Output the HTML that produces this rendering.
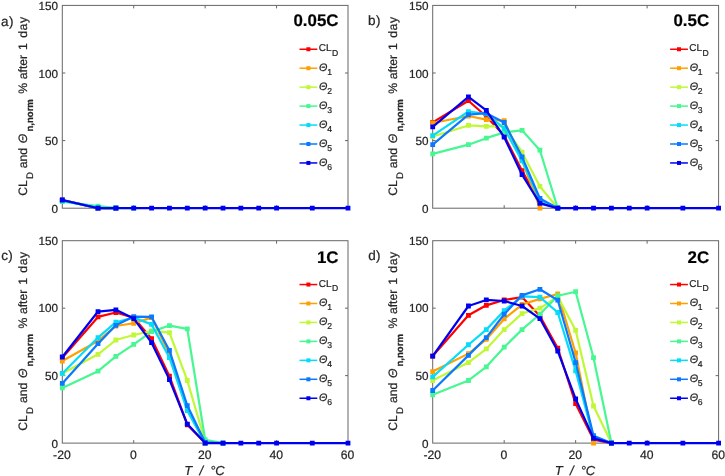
<!DOCTYPE html>
<html><head><meta charset="utf-8"><title>Chart</title>
<style>
html,body{margin:0;padding:0;background:#fff;}
body{width:725px;height:476px;overflow:hidden;font-family:"Liberation Sans",sans-serif;}
svg{display:block;will-change:transform;}
svg text{stroke:#262626;stroke-width:0.22px;}
</style></head><body>
<svg width="725" height="476" viewBox="0 0 725 476" font-family="'Liberation Sans', sans-serif" fill="#262626" text-rendering="geometricPrecision">
<rect width="725" height="476" fill="#ffffff"/>
<g>
<rect x="62.30" y="5.40" width="285.70" height="202.80" fill="none" stroke="#666666" stroke-width="1"/>
<path d="M133.72 208.20v-3.00M133.72 5.40v3.00M205.15 208.20v-3.00M205.15 5.40v3.00M276.57 208.20v-3.00M276.57 5.40v3.00M62.30 140.60h3.00M348.00 140.60h-3.00M62.30 73.00h3.00M348.00 73.00h-3.00" stroke="#666666" stroke-width="1" fill="none"/>
<text x="58.00" y="213.40" font-size="11.7" text-anchor="end">0</text>
<text x="58.00" y="145.00" font-size="11.7" text-anchor="end">50</text>
<text x="58.00" y="77.60" font-size="11.7" text-anchor="end">100</text>
<text x="58.00" y="10.00" font-size="11.7" text-anchor="end">150</text>
<g transform="translate(27.10 194.80) rotate(-90)">
<text x="-1.00" y="0.00" font-size="12.20" >CL</text>
<text x="15.70" y="5.80" font-size="9.60" >D</text>
<text x="26.60" y="0.00" font-size="12.20" >and</text>
<text x="51.60" y="0.00" font-size="12.20" font-style="italic">Θ</text>
<text x="63.20" y="5.80" font-size="9.60" font-weight="bold">n,norm</text>
<text x="101.10" y="0.00" font-size="12.20" >%</text>
<text x="115.60" y="0.00" font-size="12.20" >after</text>
<text x="144.90" y="0.00" font-size="12.20" >1</text>
<text x="157.00" y="0.00" font-size="12.20" letter-spacing="0.6">day</text>
</g>
<text x="1.10" y="25.60" font-size="13.5" letter-spacing="0.4">a)</text>
<polyline points="62.30,200.09 98.01,208.06 115.87,208.20" fill="none" stroke="#ff0000" stroke-width="2.20" stroke-linejoin="round"/>
<path d="M59.90 197.69h4.80v4.80h-4.80zM95.61 205.66h4.80v4.80h-4.80zM113.47 205.80h4.80v4.80h-4.80z" fill="#ff0000"/>
<polyline points="62.30,200.09 98.01,208.06 115.87,208.20" fill="none" stroke="#ffa000" stroke-width="2.20" stroke-linejoin="round"/>
<path d="M59.90 197.69h4.80v4.80h-4.80zM95.61 205.66h4.80v4.80h-4.80zM113.47 205.80h4.80v4.80h-4.80z" fill="#ffa000"/>
<polyline points="62.30,200.76 98.01,207.52 115.87,208.20" fill="none" stroke="#c0f836" stroke-width="2.20" stroke-linejoin="round"/>
<path d="M59.90 198.36h4.80v4.80h-4.80zM95.61 205.12h4.80v4.80h-4.80zM113.47 205.80h4.80v4.80h-4.80z" fill="#c0f836"/>
<polyline points="62.30,201.58 98.01,206.04 115.87,207.79 133.72,208.20" fill="none" stroke="#46f792" stroke-width="2.20" stroke-linejoin="round"/>
<path d="M59.90 199.18h4.80v4.80h-4.80zM95.61 203.64h4.80v4.80h-4.80zM113.47 205.39h4.80v4.80h-4.80zM131.32 205.80h4.80v4.80h-4.80z" fill="#46f792"/>
<polyline points="62.30,200.76 98.01,207.79 115.87,208.20" fill="none" stroke="#06dcf8" stroke-width="2.20" stroke-linejoin="round"/>
<path d="M59.90 198.36h4.80v4.80h-4.80zM95.61 205.39h4.80v4.80h-4.80zM113.47 205.80h4.80v4.80h-4.80z" fill="#06dcf8"/>
<polyline points="62.30,200.09 98.01,208.06 115.87,208.20" fill="none" stroke="#0a78ff" stroke-width="2.20" stroke-linejoin="round"/>
<path d="M59.90 197.69h4.80v4.80h-4.80zM95.61 205.66h4.80v4.80h-4.80zM113.47 205.80h4.80v4.80h-4.80z" fill="#0a78ff"/>
<polyline points="62.30,199.95 98.01,208.20 115.87,208.20 133.72,208.20 151.58,208.20 169.44,208.20 187.29,208.20 205.15,208.20 223.01,208.20 240.86,208.20 258.72,208.20 276.57,208.20 312.29,208.20 348.00,208.20" fill="none" stroke="#0000f0" stroke-width="2.20" stroke-linejoin="round"/>
<path d="M59.90 197.55h4.80v4.80h-4.80zM95.61 205.80h4.80v4.80h-4.80zM113.47 205.80h4.80v4.80h-4.80zM131.32 205.80h4.80v4.80h-4.80zM149.18 205.80h4.80v4.80h-4.80zM167.04 205.80h4.80v4.80h-4.80zM184.89 205.80h4.80v4.80h-4.80zM202.75 205.80h4.80v4.80h-4.80zM220.61 205.80h4.80v4.80h-4.80zM238.46 205.80h4.80v4.80h-4.80zM256.32 205.80h4.80v4.80h-4.80zM274.18 205.80h4.80v4.80h-4.80zM309.89 205.80h4.80v4.80h-4.80zM345.60 205.80h4.80v4.80h-4.80z" fill="#0000f0"/>
<text x="338.50" y="26.40" font-size="16.9" font-weight="bold" text-anchor="end" fill="#000">0.05C</text>
<path d="M299.50 49.25h17.8" stroke="#ff0000" stroke-width="1.5" fill="none"/>
<rect x="306.40" y="47.25" width="4" height="4" fill="#ff0000"/>
<text x="318.70" y="51.45" font-size="10">CL<tspan font-size="8.6" dx="0.5" dy="4.7">D</tspan></text>
<path d="M299.50 68.20h17.8" stroke="#ffa000" stroke-width="1.5" fill="none"/>
<rect x="306.40" y="66.20" width="4" height="4" fill="#ffa000"/>
<text x="319.10" y="71.10" font-size="10.8"><tspan font-style="italic">Θ</tspan><tspan font-size="8.6" dx="-0.3" dy="4.0">1</tspan></text>
<path d="M299.50 87.15h17.8" stroke="#c0f836" stroke-width="1.5" fill="none"/>
<rect x="306.40" y="85.15" width="4" height="4" fill="#c0f836"/>
<text x="319.10" y="90.05" font-size="10.8"><tspan font-style="italic">Θ</tspan><tspan font-size="8.6" dx="-0.3" dy="4.0">2</tspan></text>
<path d="M299.50 106.10h17.8" stroke="#46f792" stroke-width="1.5" fill="none"/>
<rect x="306.40" y="104.10" width="4" height="4" fill="#46f792"/>
<text x="319.10" y="109.00" font-size="10.8"><tspan font-style="italic">Θ</tspan><tspan font-size="8.6" dx="-0.3" dy="4.0">3</tspan></text>
<path d="M299.50 125.05h17.8" stroke="#06dcf8" stroke-width="1.5" fill="none"/>
<rect x="306.40" y="123.05" width="4" height="4" fill="#06dcf8"/>
<text x="319.10" y="127.95" font-size="10.8"><tspan font-style="italic">Θ</tspan><tspan font-size="8.6" dx="-0.3" dy="4.0">4</tspan></text>
<path d="M299.50 144.00h17.8" stroke="#0a78ff" stroke-width="1.5" fill="none"/>
<rect x="306.40" y="142.00" width="4" height="4" fill="#0a78ff"/>
<text x="319.10" y="146.90" font-size="10.8"><tspan font-style="italic">Θ</tspan><tspan font-size="8.6" dx="-0.3" dy="4.0">5</tspan></text>
<path d="M299.50 162.95h17.8" stroke="#0000f0" stroke-width="1.5" fill="none"/>
<rect x="306.40" y="160.95" width="4" height="4" fill="#0000f0"/>
<text x="319.10" y="165.85" font-size="10.8"><tspan font-style="italic">Θ</tspan><tspan font-size="8.6" dx="-0.3" dy="4.0">6</tspan></text>
</g>
<g>
<rect x="432.70" y="5.40" width="285.90" height="202.80" fill="none" stroke="#666666" stroke-width="1"/>
<path d="M504.18 208.20v-3.00M504.18 5.40v3.00M575.65 208.20v-3.00M575.65 5.40v3.00M647.12 208.20v-3.00M647.12 5.40v3.00M432.70 140.60h3.00M718.60 140.60h-3.00M432.70 73.00h3.00M718.60 73.00h-3.00" stroke="#666666" stroke-width="1" fill="none"/>
<text x="428.40" y="213.40" font-size="11.7" text-anchor="end">0</text>
<text x="428.40" y="145.00" font-size="11.7" text-anchor="end">50</text>
<text x="428.40" y="77.60" font-size="11.7" text-anchor="end">100</text>
<text x="428.40" y="10.00" font-size="11.7" text-anchor="end">150</text>
<g transform="translate(397.25 194.80) rotate(-90)">
<text x="-1.00" y="0.00" font-size="12.20" >CL</text>
<text x="15.70" y="5.80" font-size="9.60" >D</text>
<text x="26.60" y="0.00" font-size="12.20" >and</text>
<text x="51.60" y="0.00" font-size="12.20" font-style="italic">Θ</text>
<text x="63.20" y="5.80" font-size="9.60" font-weight="bold">n,norm</text>
<text x="101.10" y="0.00" font-size="12.20" >%</text>
<text x="115.60" y="0.00" font-size="12.20" >after</text>
<text x="144.90" y="0.00" font-size="12.20" >1</text>
<text x="157.00" y="0.00" font-size="12.20" letter-spacing="0.6">day</text>
</g>
<text x="368.00" y="25.30" font-size="13.5" letter-spacing="0.4">b)</text>
<polyline points="432.70,122.35 468.44,100.72 486.31,116.53 504.18,135.60 522.04,170.75 539.91,202.39 557.78,208.20" fill="none" stroke="#ff0000" stroke-width="2.20" stroke-linejoin="round"/>
<path d="M430.30 119.95h4.80v4.80h-4.80zM466.04 98.32h4.80v4.80h-4.80zM483.91 114.13h4.80v4.80h-4.80zM501.78 133.20h4.80v4.80h-4.80zM519.64 168.35h4.80v4.80h-4.80zM537.51 199.99h4.80v4.80h-4.80zM555.38 205.80h4.80v4.80h-4.80z" fill="#ff0000"/>
<polyline points="432.70,123.02 468.44,115.99 486.31,119.64 504.18,120.59 522.04,160.20 539.91,208.20" fill="none" stroke="#ffa000" stroke-width="2.20" stroke-linejoin="round"/>
<path d="M430.30 120.62h4.80v4.80h-4.80zM466.04 113.59h4.80v4.80h-4.80zM483.91 117.24h4.80v4.80h-4.80zM501.78 118.19h4.80v4.80h-4.80zM519.64 157.80h4.80v4.80h-4.80zM537.51 205.80h4.80v4.80h-4.80z" fill="#ffa000"/>
<polyline points="432.70,136.54 468.44,125.46 486.31,126.40 504.18,126.13 522.04,152.23 539.91,186.43 557.78,208.20" fill="none" stroke="#c0f836" stroke-width="2.20" stroke-linejoin="round"/>
<path d="M430.30 134.14h4.80v4.80h-4.80zM466.04 123.06h4.80v4.80h-4.80zM483.91 124.00h4.80v4.80h-4.80zM501.78 123.73h4.80v4.80h-4.80zM519.64 149.83h4.80v4.80h-4.80zM537.51 184.03h4.80v4.80h-4.80zM555.38 205.80h4.80v4.80h-4.80z" fill="#c0f836"/>
<polyline points="432.70,153.85 468.44,144.66 486.31,138.17 504.18,132.35 522.04,130.32 539.91,150.20 557.78,208.20" fill="none" stroke="#46f792" stroke-width="2.20" stroke-linejoin="round"/>
<path d="M430.30 151.45h4.80v4.80h-4.80zM466.04 142.26h4.80v4.80h-4.80zM483.91 135.77h4.80v4.80h-4.80zM501.78 129.95h4.80v4.80h-4.80zM519.64 127.92h4.80v4.80h-4.80zM537.51 147.80h4.80v4.80h-4.80zM555.38 205.80h4.80v4.80h-4.80z" fill="#46f792"/>
<polyline points="432.70,135.60 468.44,111.53 486.31,113.83 504.18,128.43 522.04,160.88 539.91,200.09 557.78,208.20" fill="none" stroke="#06dcf8" stroke-width="2.20" stroke-linejoin="round"/>
<path d="M430.30 133.20h4.80v4.80h-4.80zM466.04 109.13h4.80v4.80h-4.80zM483.91 111.43h4.80v4.80h-4.80zM501.78 126.03h4.80v4.80h-4.80zM519.64 158.48h4.80v4.80h-4.80zM537.51 197.69h4.80v4.80h-4.80zM555.38 205.80h4.80v4.80h-4.80z" fill="#06dcf8"/>
<polyline points="432.70,144.66 468.44,114.64 486.31,113.15 504.18,122.48 522.04,156.82 539.91,198.47 557.78,208.20" fill="none" stroke="#0a78ff" stroke-width="2.20" stroke-linejoin="round"/>
<path d="M430.30 142.26h4.80v4.80h-4.80zM466.04 112.24h4.80v4.80h-4.80zM483.91 110.75h4.80v4.80h-4.80zM501.78 120.08h4.80v4.80h-4.80zM519.64 154.42h4.80v4.80h-4.80zM537.51 196.07h4.80v4.80h-4.80zM555.38 205.80h4.80v4.80h-4.80z" fill="#0a78ff"/>
<polyline points="432.70,126.81 468.44,96.80 486.31,110.32 504.18,137.22 522.04,174.67 539.91,203.33 557.78,208.20 575.65,208.20 593.52,208.20 611.39,208.20 629.26,208.20 647.12,208.20 682.86,208.20 718.60,208.20" fill="none" stroke="#0000f0" stroke-width="2.20" stroke-linejoin="round"/>
<path d="M430.30 124.41h4.80v4.80h-4.80zM466.04 94.40h4.80v4.80h-4.80zM483.91 107.92h4.80v4.80h-4.80zM501.78 134.82h4.80v4.80h-4.80zM519.64 172.27h4.80v4.80h-4.80zM537.51 200.93h4.80v4.80h-4.80zM555.38 205.80h4.80v4.80h-4.80zM573.25 205.80h4.80v4.80h-4.80zM591.12 205.80h4.80v4.80h-4.80zM608.99 205.80h4.80v4.80h-4.80zM626.86 205.80h4.80v4.80h-4.80zM644.73 205.80h4.80v4.80h-4.80zM680.46 205.80h4.80v4.80h-4.80zM716.20 205.80h4.80v4.80h-4.80z" fill="#0000f0"/>
<text x="709.10" y="26.40" font-size="16.9" font-weight="bold" text-anchor="end" fill="#000">0.5C</text>
<path d="M670.10 49.25h17.8" stroke="#ff0000" stroke-width="1.5" fill="none"/>
<rect x="677.00" y="47.25" width="4" height="4" fill="#ff0000"/>
<text x="689.30" y="51.45" font-size="10">CL<tspan font-size="8.6" dx="0.5" dy="4.7">D</tspan></text>
<path d="M670.10 68.20h17.8" stroke="#ffa000" stroke-width="1.5" fill="none"/>
<rect x="677.00" y="66.20" width="4" height="4" fill="#ffa000"/>
<text x="689.70" y="71.10" font-size="10.8"><tspan font-style="italic">Θ</tspan><tspan font-size="8.6" dx="-0.3" dy="4.0">1</tspan></text>
<path d="M670.10 87.15h17.8" stroke="#c0f836" stroke-width="1.5" fill="none"/>
<rect x="677.00" y="85.15" width="4" height="4" fill="#c0f836"/>
<text x="689.70" y="90.05" font-size="10.8"><tspan font-style="italic">Θ</tspan><tspan font-size="8.6" dx="-0.3" dy="4.0">2</tspan></text>
<path d="M670.10 106.10h17.8" stroke="#46f792" stroke-width="1.5" fill="none"/>
<rect x="677.00" y="104.10" width="4" height="4" fill="#46f792"/>
<text x="689.70" y="109.00" font-size="10.8"><tspan font-style="italic">Θ</tspan><tspan font-size="8.6" dx="-0.3" dy="4.0">3</tspan></text>
<path d="M670.10 125.05h17.8" stroke="#06dcf8" stroke-width="1.5" fill="none"/>
<rect x="677.00" y="123.05" width="4" height="4" fill="#06dcf8"/>
<text x="689.70" y="127.95" font-size="10.8"><tspan font-style="italic">Θ</tspan><tspan font-size="8.6" dx="-0.3" dy="4.0">4</tspan></text>
<path d="M670.10 144.00h17.8" stroke="#0a78ff" stroke-width="1.5" fill="none"/>
<rect x="677.00" y="142.00" width="4" height="4" fill="#0a78ff"/>
<text x="689.70" y="146.90" font-size="10.8"><tspan font-style="italic">Θ</tspan><tspan font-size="8.6" dx="-0.3" dy="4.0">5</tspan></text>
<path d="M670.10 162.95h17.8" stroke="#0000f0" stroke-width="1.5" fill="none"/>
<rect x="677.00" y="160.95" width="4" height="4" fill="#0000f0"/>
<text x="689.70" y="165.85" font-size="10.8"><tspan font-style="italic">Θ</tspan><tspan font-size="8.6" dx="-0.3" dy="4.0">6</tspan></text>
</g>
<g>
<rect x="62.30" y="240.70" width="285.70" height="202.40" fill="none" stroke="#666666" stroke-width="1"/>
<path d="M133.72 443.10v-3.00M133.72 240.70v3.00M205.15 443.10v-3.00M205.15 240.70v3.00M276.57 443.10v-3.00M276.57 240.70v3.00M62.30 375.63h3.00M348.00 375.63h-3.00M62.30 308.17h3.00M348.00 308.17h-3.00" stroke="#666666" stroke-width="1" fill="none"/>
<text x="58.00" y="447.90" font-size="11.7" text-anchor="end">0</text>
<text x="58.00" y="380.03" font-size="11.7" text-anchor="end">50</text>
<text x="58.00" y="312.47" font-size="11.7" text-anchor="end">100</text>
<text x="58.00" y="245.00" font-size="11.7" text-anchor="end">150</text>
<text x="61.90" y="458.70" font-size="12.2" text-anchor="middle">-20</text>
<text x="133.32" y="458.70" font-size="12.2" text-anchor="middle">0</text>
<text x="204.75" y="458.70" font-size="12.2" text-anchor="middle">20</text>
<text x="276.18" y="458.70" font-size="12.2" text-anchor="middle">40</text>
<text x="347.60" y="458.70" font-size="12.2" text-anchor="middle">60</text>
<g font-size="13" font-style="italic"><text x="184.35" y="474.8">T</text><text x="199.55" y="474.8">/</text><text x="210.15" y="474.8">°C</text></g>
<g transform="translate(27.10 429.70) rotate(-90)">
<text x="-1.00" y="0.00" font-size="12.20" >CL</text>
<text x="15.70" y="5.80" font-size="9.60" >D</text>
<text x="26.60" y="0.00" font-size="12.20" >and</text>
<text x="51.60" y="0.00" font-size="12.20" font-style="italic">Θ</text>
<text x="63.20" y="5.80" font-size="9.60" font-weight="bold">n,norm</text>
<text x="101.10" y="0.00" font-size="12.20" >%</text>
<text x="115.60" y="0.00" font-size="12.20" >after</text>
<text x="144.90" y="0.00" font-size="12.20" >1</text>
<text x="157.00" y="0.00" font-size="12.20" letter-spacing="0.6">day</text>
</g>
<text x="1.20" y="259.80" font-size="13.5" letter-spacing="0.4">c)</text>
<polyline points="62.30,357.69 98.01,316.94 115.87,312.48 133.72,317.61 151.58,338.66 169.44,376.17 187.29,424.75 205.15,443.10" fill="none" stroke="#ff0000" stroke-width="2.20" stroke-linejoin="round"/>
<path d="M59.90 355.29h4.80v4.80h-4.80zM95.61 314.54h4.80v4.80h-4.80zM113.47 310.08h4.80v4.80h-4.80zM131.32 315.21h4.80v4.80h-4.80zM149.18 336.26h4.80v4.80h-4.80zM167.04 373.77h4.80v4.80h-4.80zM184.89 422.35h4.80v4.80h-4.80zM202.75 440.70h4.80v4.80h-4.80z" fill="#ff0000"/>
<polyline points="62.30,361.06 98.01,340.96 115.87,325.98 133.72,323.28 151.58,317.61 169.44,354.04 187.29,409.37 205.15,443.10" fill="none" stroke="#ffa000" stroke-width="2.20" stroke-linejoin="round"/>
<path d="M59.90 358.66h4.80v4.80h-4.80zM95.61 338.56h4.80v4.80h-4.80zM113.47 323.58h4.80v4.80h-4.80zM131.32 320.88h4.80v4.80h-4.80zM149.18 315.21h4.80v4.80h-4.80zM167.04 351.64h4.80v4.80h-4.80zM184.89 406.97h4.80v4.80h-4.80zM202.75 440.70h4.80v4.80h-4.80z" fill="#ffa000"/>
<polyline points="62.30,373.47 98.01,354.31 115.87,340.01 133.72,335.02 151.58,330.97 169.44,332.59 187.29,380.49 205.15,441.75 223.01,443.10" fill="none" stroke="#c0f836" stroke-width="2.20" stroke-linejoin="round"/>
<path d="M59.90 371.07h4.80v4.80h-4.80zM95.61 351.91h4.80v4.80h-4.80zM113.47 337.61h4.80v4.80h-4.80zM131.32 332.62h4.80v4.80h-4.80zM149.18 328.57h4.80v4.80h-4.80zM167.04 330.19h4.80v4.80h-4.80zM184.89 378.09h4.80v4.80h-4.80zM202.75 439.35h4.80v4.80h-4.80zM220.61 440.70h4.80v4.80h-4.80z" fill="#c0f836"/>
<polyline points="62.30,387.91 98.01,371.18 115.87,356.34 133.72,344.33 151.58,331.65 169.44,325.57 187.29,328.95 205.15,439.73 223.01,443.10" fill="none" stroke="#46f792" stroke-width="2.20" stroke-linejoin="round"/>
<path d="M59.90 385.51h4.80v4.80h-4.80zM95.61 368.78h4.80v4.80h-4.80zM113.47 353.94h4.80v4.80h-4.80zM131.32 341.93h4.80v4.80h-4.80zM149.18 329.25h4.80v4.80h-4.80zM167.04 323.17h4.80v4.80h-4.80zM184.89 326.55h4.80v4.80h-4.80zM202.75 437.33h4.80v4.80h-4.80zM220.61 440.70h4.80v4.80h-4.80z" fill="#46f792"/>
<polyline points="62.30,373.47 98.01,337.58 115.87,322.20 133.72,317.61 151.58,324.36 169.44,357.69 187.29,410.72 205.15,443.10" fill="none" stroke="#06dcf8" stroke-width="2.20" stroke-linejoin="round"/>
<path d="M59.90 371.07h4.80v4.80h-4.80zM95.61 335.18h4.80v4.80h-4.80zM113.47 319.80h4.80v4.80h-4.80zM131.32 315.21h4.80v4.80h-4.80zM149.18 321.96h4.80v4.80h-4.80zM167.04 355.29h4.80v4.80h-4.80zM184.89 408.32h4.80v4.80h-4.80zM202.75 440.70h4.80v4.80h-4.80z" fill="#06dcf8"/>
<polyline points="62.30,383.46 98.01,343.65 115.87,325.30 133.72,316.53 151.58,316.94 169.44,350.40 187.29,405.59 205.15,442.43 223.01,443.10" fill="none" stroke="#0a78ff" stroke-width="2.20" stroke-linejoin="round"/>
<path d="M59.90 381.06h4.80v4.80h-4.80zM95.61 341.25h4.80v4.80h-4.80zM113.47 322.90h4.80v4.80h-4.80zM131.32 314.13h4.80v4.80h-4.80zM149.18 314.54h4.80v4.80h-4.80zM167.04 348.00h4.80v4.80h-4.80zM184.89 403.19h4.80v4.80h-4.80zM202.75 440.03h4.80v4.80h-4.80zM220.61 440.70h4.80v4.80h-4.80z" fill="#0a78ff"/>
<polyline points="62.30,357.01 98.01,311.54 115.87,309.79 133.72,318.56 151.58,342.71 169.44,379.55 187.29,424.07 205.15,443.10 223.01,443.10 240.86,443.10 258.72,443.10 276.57,443.10 312.29,443.10 348.00,443.10" fill="none" stroke="#0000f0" stroke-width="2.20" stroke-linejoin="round"/>
<path d="M59.90 354.61h4.80v4.80h-4.80zM95.61 309.14h4.80v4.80h-4.80zM113.47 307.39h4.80v4.80h-4.80zM131.32 316.16h4.80v4.80h-4.80zM149.18 340.31h4.80v4.80h-4.80zM167.04 377.15h4.80v4.80h-4.80zM184.89 421.67h4.80v4.80h-4.80zM202.75 440.70h4.80v4.80h-4.80zM220.61 440.70h4.80v4.80h-4.80zM238.46 440.70h4.80v4.80h-4.80zM256.32 440.70h4.80v4.80h-4.80zM274.18 440.70h4.80v4.80h-4.80zM309.89 440.70h4.80v4.80h-4.80zM345.60 440.70h4.80v4.80h-4.80z" fill="#0000f0"/>
<text x="338.50" y="262.90" font-size="16.9" font-weight="bold" text-anchor="end" fill="#000">1C</text>
<path d="M299.50 284.55h17.8" stroke="#ff0000" stroke-width="1.5" fill="none"/>
<rect x="306.40" y="282.55" width="4" height="4" fill="#ff0000"/>
<text x="318.70" y="286.75" font-size="10">CL<tspan font-size="8.6" dx="0.5" dy="4.7">D</tspan></text>
<path d="M299.50 303.50h17.8" stroke="#ffa000" stroke-width="1.5" fill="none"/>
<rect x="306.40" y="301.50" width="4" height="4" fill="#ffa000"/>
<text x="319.10" y="306.40" font-size="10.8"><tspan font-style="italic">Θ</tspan><tspan font-size="8.6" dx="-0.3" dy="4.0">1</tspan></text>
<path d="M299.50 322.45h17.8" stroke="#c0f836" stroke-width="1.5" fill="none"/>
<rect x="306.40" y="320.45" width="4" height="4" fill="#c0f836"/>
<text x="319.10" y="325.35" font-size="10.8"><tspan font-style="italic">Θ</tspan><tspan font-size="8.6" dx="-0.3" dy="4.0">2</tspan></text>
<path d="M299.50 341.40h17.8" stroke="#46f792" stroke-width="1.5" fill="none"/>
<rect x="306.40" y="339.40" width="4" height="4" fill="#46f792"/>
<text x="319.10" y="344.30" font-size="10.8"><tspan font-style="italic">Θ</tspan><tspan font-size="8.6" dx="-0.3" dy="4.0">3</tspan></text>
<path d="M299.50 360.35h17.8" stroke="#06dcf8" stroke-width="1.5" fill="none"/>
<rect x="306.40" y="358.35" width="4" height="4" fill="#06dcf8"/>
<text x="319.10" y="363.25" font-size="10.8"><tspan font-style="italic">Θ</tspan><tspan font-size="8.6" dx="-0.3" dy="4.0">4</tspan></text>
<path d="M299.50 379.30h17.8" stroke="#0a78ff" stroke-width="1.5" fill="none"/>
<rect x="306.40" y="377.30" width="4" height="4" fill="#0a78ff"/>
<text x="319.10" y="382.20" font-size="10.8"><tspan font-style="italic">Θ</tspan><tspan font-size="8.6" dx="-0.3" dy="4.0">5</tspan></text>
<path d="M299.50 398.25h17.8" stroke="#0000f0" stroke-width="1.5" fill="none"/>
<rect x="306.40" y="396.25" width="4" height="4" fill="#0000f0"/>
<text x="319.10" y="401.15" font-size="10.8"><tspan font-style="italic">Θ</tspan><tspan font-size="8.6" dx="-0.3" dy="4.0">6</tspan></text>
</g>
<g>
<rect x="432.70" y="240.70" width="285.90" height="202.40" fill="none" stroke="#666666" stroke-width="1"/>
<path d="M504.18 443.10v-3.00M504.18 240.70v3.00M575.65 443.10v-3.00M575.65 240.70v3.00M647.12 443.10v-3.00M647.12 240.70v3.00M432.70 375.63h3.00M718.60 375.63h-3.00M432.70 308.17h3.00M718.60 308.17h-3.00" stroke="#666666" stroke-width="1" fill="none"/>
<text x="428.40" y="447.90" font-size="11.7" text-anchor="end">0</text>
<text x="428.40" y="380.03" font-size="11.7" text-anchor="end">50</text>
<text x="428.40" y="312.47" font-size="11.7" text-anchor="end">100</text>
<text x="428.40" y="245.00" font-size="11.7" text-anchor="end">150</text>
<text x="432.30" y="458.70" font-size="12.2" text-anchor="middle">-20</text>
<text x="503.78" y="458.70" font-size="12.2" text-anchor="middle">0</text>
<text x="575.25" y="458.70" font-size="12.2" text-anchor="middle">20</text>
<text x="646.73" y="458.70" font-size="12.2" text-anchor="middle">40</text>
<text x="718.20" y="458.70" font-size="12.2" text-anchor="middle">60</text>
<g font-size="13" font-style="italic"><text x="554.85" y="474.8">T</text><text x="570.05" y="474.8">/</text><text x="580.65" y="474.8">°C</text></g>
<g transform="translate(397.25 429.70) rotate(-90)">
<text x="-1.00" y="0.00" font-size="12.20" >CL</text>
<text x="15.70" y="5.80" font-size="9.60" >D</text>
<text x="26.60" y="0.00" font-size="12.20" >and</text>
<text x="51.60" y="0.00" font-size="12.20" font-style="italic">Θ</text>
<text x="63.20" y="5.80" font-size="9.60" font-weight="bold">n,norm</text>
<text x="101.10" y="0.00" font-size="12.20" >%</text>
<text x="115.60" y="0.00" font-size="12.20" >after</text>
<text x="144.90" y="0.00" font-size="12.20" >1</text>
<text x="157.00" y="0.00" font-size="12.20" letter-spacing="0.6">day</text>
</g>
<text x="368.20" y="259.70" font-size="13.5" letter-spacing="0.4">d)</text>
<polyline points="432.70,356.07 468.44,315.32 486.31,305.33 504.18,299.94 522.04,297.10 539.91,315.99 557.78,348.24 575.65,403.70 593.52,439.59 611.39,443.10" fill="none" stroke="#ff0000" stroke-width="2.20" stroke-linejoin="round"/>
<path d="M430.30 353.67h4.80v4.80h-4.80zM466.04 312.92h4.80v4.80h-4.80zM483.91 302.93h4.80v4.80h-4.80zM501.78 297.54h4.80v4.80h-4.80zM519.64 294.70h4.80v4.80h-4.80zM537.51 313.59h4.80v4.80h-4.80zM555.38 345.84h4.80v4.80h-4.80zM573.25 401.30h4.80v4.80h-4.80zM591.12 437.19h4.80v4.80h-4.80zM608.99 440.70h4.80v4.80h-4.80z" fill="#ff0000"/>
<polyline points="432.70,371.59 468.44,353.64 486.31,339.34 504.18,318.96 522.04,304.52 539.91,298.86 557.78,294.00 575.65,352.96 593.52,443.10" fill="none" stroke="#ffa000" stroke-width="2.20" stroke-linejoin="round"/>
<path d="M430.30 369.19h4.80v4.80h-4.80zM466.04 351.24h4.80v4.80h-4.80zM483.91 336.94h4.80v4.80h-4.80zM501.78 316.56h4.80v4.80h-4.80zM519.64 302.12h4.80v4.80h-4.80zM537.51 296.46h4.80v4.80h-4.80zM555.38 291.60h4.80v4.80h-4.80zM573.25 350.56h4.80v4.80h-4.80zM591.12 440.70h4.80v4.80h-4.80z" fill="#ffa000"/>
<polyline points="432.70,380.49 468.44,362.54 486.31,348.92 504.18,329.62 522.04,313.56 539.91,308.17 557.78,296.83 575.65,330.30 593.52,405.99 611.39,443.10" fill="none" stroke="#c0f836" stroke-width="2.20" stroke-linejoin="round"/>
<path d="M430.30 378.09h4.80v4.80h-4.80zM466.04 360.14h4.80v4.80h-4.80zM483.91 346.52h4.80v4.80h-4.80zM501.78 327.22h4.80v4.80h-4.80zM519.64 311.16h4.80v4.80h-4.80zM537.51 305.77h4.80v4.80h-4.80zM555.38 294.43h4.80v4.80h-4.80zM573.25 327.90h4.80v4.80h-4.80zM591.12 403.59h4.80v4.80h-4.80zM608.99 440.70h4.80v4.80h-4.80z" fill="#c0f836"/>
<polyline points="432.70,394.79 468.44,380.49 486.31,366.86 504.18,347.16 522.04,329.62 539.91,314.24 557.78,295.75 575.65,291.70 593.52,357.69 611.39,443.10" fill="none" stroke="#46f792" stroke-width="2.20" stroke-linejoin="round"/>
<path d="M430.30 392.39h4.80v4.80h-4.80zM466.04 378.09h4.80v4.80h-4.80zM483.91 364.46h4.80v4.80h-4.80zM501.78 344.76h4.80v4.80h-4.80zM519.64 327.22h4.80v4.80h-4.80zM537.51 311.84h4.80v4.80h-4.80zM555.38 293.35h4.80v4.80h-4.80zM573.25 289.30h4.80v4.80h-4.80zM591.12 355.29h4.80v4.80h-4.80zM608.99 440.70h4.80v4.80h-4.80z" fill="#46f792"/>
<polyline points="432.70,376.85 468.44,344.73 486.31,329.62 504.18,310.73 522.04,296.29 539.91,297.10 557.78,312.48 575.65,370.91 593.52,437.70 611.39,443.10" fill="none" stroke="#06dcf8" stroke-width="2.20" stroke-linejoin="round"/>
<path d="M430.30 374.45h4.80v4.80h-4.80zM466.04 342.33h4.80v4.80h-4.80zM483.91 327.22h4.80v4.80h-4.80zM501.78 308.33h4.80v4.80h-4.80zM519.64 293.89h4.80v4.80h-4.80zM537.51 294.70h4.80v4.80h-4.80zM555.38 310.08h4.80v4.80h-4.80zM573.25 368.51h4.80v4.80h-4.80zM591.12 435.30h4.80v4.80h-4.80zM608.99 440.70h4.80v4.80h-4.80z" fill="#06dcf8"/>
<polyline points="432.70,390.48 468.44,355.39 486.31,337.58 504.18,314.24 522.04,295.35 539.91,289.28 557.78,300.21 575.65,362.54 593.52,435.68 611.39,443.10" fill="none" stroke="#0a78ff" stroke-width="2.20" stroke-linejoin="round"/>
<path d="M430.30 388.08h4.80v4.80h-4.80zM466.04 352.99h4.80v4.80h-4.80zM483.91 335.18h4.80v4.80h-4.80zM501.78 311.84h4.80v4.80h-4.80zM519.64 292.95h4.80v4.80h-4.80zM537.51 286.88h4.80v4.80h-4.80zM555.38 297.81h4.80v4.80h-4.80zM573.25 360.14h4.80v4.80h-4.80zM591.12 433.28h4.80v4.80h-4.80zM608.99 440.70h4.80v4.80h-4.80z" fill="#0a78ff"/>
<polyline points="432.70,356.07 468.44,306.01 486.31,299.94 504.18,301.02 522.04,306.01 539.91,318.56 557.78,351.08 575.65,398.84 593.52,438.38 611.39,443.10 629.26,443.10 647.12,443.10 682.86,443.10 718.60,443.10" fill="none" stroke="#0000f0" stroke-width="2.20" stroke-linejoin="round"/>
<path d="M430.30 353.67h4.80v4.80h-4.80zM466.04 303.61h4.80v4.80h-4.80zM483.91 297.54h4.80v4.80h-4.80zM501.78 298.62h4.80v4.80h-4.80zM519.64 303.61h4.80v4.80h-4.80zM537.51 316.16h4.80v4.80h-4.80zM555.38 348.68h4.80v4.80h-4.80zM573.25 396.44h4.80v4.80h-4.80zM591.12 435.98h4.80v4.80h-4.80zM608.99 440.70h4.80v4.80h-4.80zM626.86 440.70h4.80v4.80h-4.80zM644.73 440.70h4.80v4.80h-4.80zM680.46 440.70h4.80v4.80h-4.80zM716.20 440.70h4.80v4.80h-4.80z" fill="#0000f0"/>
<text x="709.10" y="262.90" font-size="16.9" font-weight="bold" text-anchor="end" fill="#000">2C</text>
<path d="M670.10 284.55h17.8" stroke="#ff0000" stroke-width="1.5" fill="none"/>
<rect x="677.00" y="282.55" width="4" height="4" fill="#ff0000"/>
<text x="689.30" y="286.75" font-size="10">CL<tspan font-size="8.6" dx="0.5" dy="4.7">D</tspan></text>
<path d="M670.10 303.50h17.8" stroke="#ffa000" stroke-width="1.5" fill="none"/>
<rect x="677.00" y="301.50" width="4" height="4" fill="#ffa000"/>
<text x="689.70" y="306.40" font-size="10.8"><tspan font-style="italic">Θ</tspan><tspan font-size="8.6" dx="-0.3" dy="4.0">1</tspan></text>
<path d="M670.10 322.45h17.8" stroke="#c0f836" stroke-width="1.5" fill="none"/>
<rect x="677.00" y="320.45" width="4" height="4" fill="#c0f836"/>
<text x="689.70" y="325.35" font-size="10.8"><tspan font-style="italic">Θ</tspan><tspan font-size="8.6" dx="-0.3" dy="4.0">2</tspan></text>
<path d="M670.10 341.40h17.8" stroke="#46f792" stroke-width="1.5" fill="none"/>
<rect x="677.00" y="339.40" width="4" height="4" fill="#46f792"/>
<text x="689.70" y="344.30" font-size="10.8"><tspan font-style="italic">Θ</tspan><tspan font-size="8.6" dx="-0.3" dy="4.0">3</tspan></text>
<path d="M670.10 360.35h17.8" stroke="#06dcf8" stroke-width="1.5" fill="none"/>
<rect x="677.00" y="358.35" width="4" height="4" fill="#06dcf8"/>
<text x="689.70" y="363.25" font-size="10.8"><tspan font-style="italic">Θ</tspan><tspan font-size="8.6" dx="-0.3" dy="4.0">4</tspan></text>
<path d="M670.10 379.30h17.8" stroke="#0a78ff" stroke-width="1.5" fill="none"/>
<rect x="677.00" y="377.30" width="4" height="4" fill="#0a78ff"/>
<text x="689.70" y="382.20" font-size="10.8"><tspan font-style="italic">Θ</tspan><tspan font-size="8.6" dx="-0.3" dy="4.0">5</tspan></text>
<path d="M670.10 398.25h17.8" stroke="#0000f0" stroke-width="1.5" fill="none"/>
<rect x="677.00" y="396.25" width="4" height="4" fill="#0000f0"/>
<text x="689.70" y="401.15" font-size="10.8"><tspan font-style="italic">Θ</tspan><tspan font-size="8.6" dx="-0.3" dy="4.0">6</tspan></text>
</g>
</svg>
</body></html>
